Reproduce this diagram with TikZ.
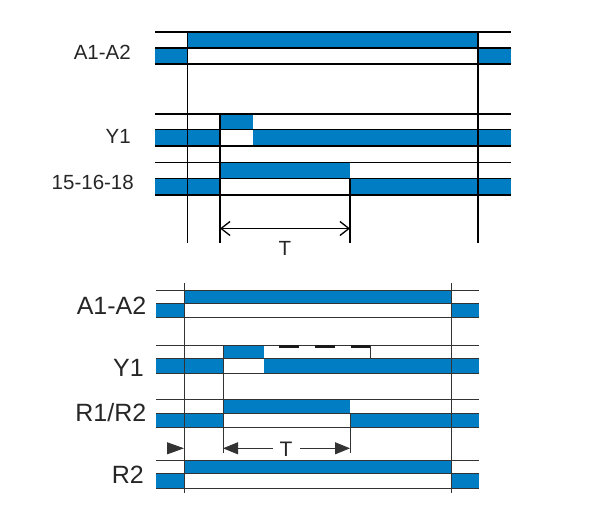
\documentclass[tikz,border=0pt]{standalone}
\usepackage{fontspec}
\setmainfont{Liberation Sans}
\usepackage{xcolor}
\usetikzlibrary{positioning,arrows.meta}
\definecolor{sigblue}{RGB}{0,125,195}
\tikzset{hi band/.style={fill=sigblue},
  up line/.style={line width=1.8pt,black},
  lo line/.style={line width=0.9pt,black!80},
  up label/.style={anchor=base east,inner sep=0pt,text=black!85,font=\fontsize{20.5}{20.5}\selectfont},
  lo label/.style={anchor=base east,inner sep=0pt,text=black!85,font=\fontsize{25}{25}\selectfont}}

\begin{document}
\begin{tikzpicture}[x=1pt,y=-1pt]
  \useasboundingbox (0,0) rectangle (600,510);
  % upper chart
  \node[up label] (ua) at (131,59.3) {A1-A2};
  \node[up label] (uy) at (131,143.3) {Y1};
  \node[up label] (uk) at (134,189.3) {15-16-18};
  \fill[hi band] (187.5,32) rectangle (478,48);
  \fill[hi band] (155,48) rectangle (187.5,64);
  \fill[hi band] (478,48) rectangle (511,64);
  \fill[hi band] (220,114) rectangle (252.5,129.5);
  \fill[hi band] (155,129.5) rectangle (220,146);
  \fill[hi band] (252.5,129.5) rectangle (511,146);
  \fill[hi band] (220,162.5) rectangle (350,178.5);
  \fill[hi band] (155,178.5) rectangle (220,195);
  \fill[hi band] (350,178.5) rectangle (511,195);
  \foreach \y in {32,48,64,114,129.5,146,162.5,178.5,195}
    \draw[up line] (155,\y) -- (511,\y);
  \coordinate (uon) at (187.5,32);
  \coordinate (uoff) at (478,32);
  \coordinate (uy1) at (220,114);
  \coordinate (uend) at (350,178.5);
  \draw[up line] (uon) -- (uon |- 0,243);
  \draw[up line] (uoff) -- (uoff |- 0,243);
  \draw[up line] (uy1) -- (uy1 |- 0,243);
  \draw[up line] (uend) -- (uend |- 0,243);
  \coordinate (ut1) at (220,228.5);
  \coordinate (ut2) at (350,228.5);
  \draw[line width=1.3pt,{Straight Barb[length=9pt,width=14pt]}-{Straight Barb[length=9pt,width=14pt]}] (ut1) -- (ut2);
  \node[anchor=base,inner sep=0pt,text=black!85,font=\fontsize{20.5}{20.5}\selectfont] (ut) at (285,256) {T};

  % lower chart
  \node[lo label] (la) at (146.5,315) {A1-A2};
  \node[lo label] (ly) at (144,377) {Y1};
  \node[lo label] (lr) at (146.5,422) {R1/R2};
  \node[lo label] (lr2) at (144,483.5) {R2};
  \fill[hi band] (184,290) rectangle (451,303.5);
  \fill[hi band] (156,303.5) rectangle (184,317);
  \fill[hi band] (451,303.5) rectangle (479,317);
  \fill[hi band] (223,345) rectangle (264,358.5);
  \fill[hi band] (156,358.5) rectangle (223,373);
  \fill[hi band] (264,358.5) rectangle (479,373);
  \fill[hi band] (223,399.5) rectangle (350,413);
  \fill[hi band] (156,413) rectangle (223,427);
  \fill[hi band] (350,413) rectangle (479,427);
  \fill[hi band] (184,460) rectangle (451,473.5);
  \fill[hi band] (156,473.5) rectangle (184,488);
  \fill[hi band] (451,473.5) rectangle (479,488);
  \foreach \y in {290,303.5,317,345,358.5,373,399.5,413,427,460,473.5,488}
    \draw[lo line] (156,\y) -- (479,\y);
  \coordinate (lon) at (184,283);
  \coordinate (loff) at (451,283);
  \coordinate (ly1) at (223,345);
  \coordinate (lend) at (350,413);
  \draw[lo line] (lon) -- (lon |- 0,493);
  \draw[lo line] (loff) -- (loff |- 0,493);
  \draw[lo line] (ly1) -- (ly1 |- 0,453);
  \draw[lo line] (lend) -- (lend |- 0,453);
  \coordinate (ld1) at (279.3,346.8);
  \coordinate (ld2) at (370.7,346.8);
  \draw[line width=3.4pt,black!90,dash pattern=on 20pt off 15.7pt] (ld1) -- (ld2);
  \draw[lo line] (370.7,345) -- (370.7,358.5);
  \coordinate (lt1) at (223,448.3);
  \coordinate (lt2) at (350,448.3);
  \node[anchor=base,inner sep=0pt,text=black!85,font=\fontsize{21}{21}\selectfont] (lt) at (286,456.5) {T};
  \draw[lo line,-{Triangle[length=15pt,width=12pt]}] (273,448.3) -- (lt1);
  \draw[lo line,-{Triangle[length=15pt,width=12pt]}] (300,448.3) -- (lt2);
  \coordinate (lst) at (166.5,448.3);
  \draw[lo line,-{Triangle[length=17pt,width=12pt]}] (lst) -- (lon |- lst);
\end{tikzpicture}
\end{document}
